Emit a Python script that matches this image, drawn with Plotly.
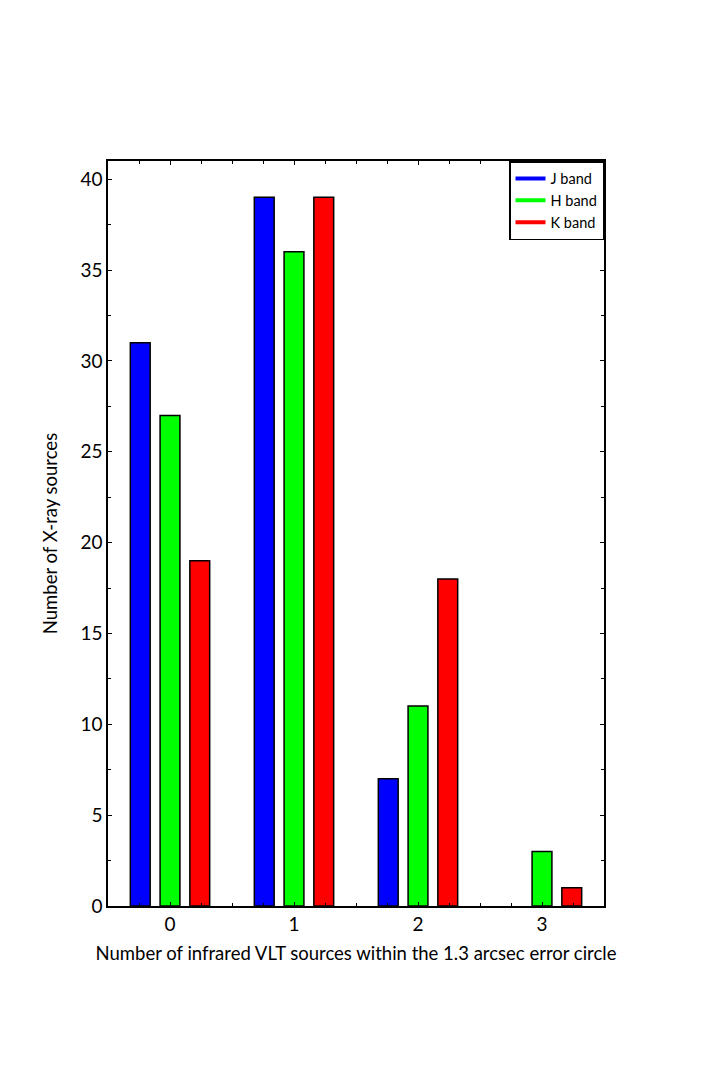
import plotly.graph_objects as go

# number of VLT infrared counterparts inside the error circle
n_counterparts = [0, 1, 2, 3]
j_band = [31, 39, 7, 0]
h_band = [27, 36, 11, 3]
k_band = [19, 39, 18, 1]

BANDS = [
    ("J band", j_band, "#0000ff", -0.32),
    ("H band", h_band, "#00ff00", -0.08),
    ("K band", k_band, "#ff0000", 0.16),
]
FONT = "Lato, DejaVu Sans, sans-serif"

fig = go.Figure()
for name, vals, col, off in BANDS:
    fig.add_trace(go.Bar(
        x=n_counterparts, y=vals, name=name,
        width=0.16, offset=off,
        marker=dict(color=col,
                    line=dict(color="black", width=[1.5 if v else 0 for v in vals])),
        showlegend=False,
    ))
    # line-style legend entries
    fig.add_trace(go.Scatter(
        x=[None], y=[None], mode="lines", name=name,
        line=dict(color=col, width=4),
    ))

axis_common = dict(
    showline=True, linecolor="black", linewidth=1.5, mirror="allticks",
    ticks="inside", tickcolor="black", showgrid=False, zeroline=False,
    tickfont=dict(family=FONT, size=19, color="black"),
)

fig.update_layout(
    width=713, height=1067,
    paper_bgcolor="white", plot_bgcolor="white",
    margin=dict(l=100, r=117, t=153, b=169),
    barmode="overlay",
    font=dict(family=FONT, color="black"),
    xaxis=dict(
        range=[-0.5, 3.5], tickvals=n_counterparts, ticklen=4,
        minor=dict(dtick=0.25, ticks="inside", ticklen=3, tickcolor="black"),
        title=dict(text="Number of infrared VLT sources within the 1.3 arcsec error circle",
                   font=dict(family=FONT, size=18.5), standoff=14),
        **axis_common,
    ),
    yaxis=dict(
        range=[0, 41], dtick=5, ticklen=4,
        minor=dict(dtick=2.5, ticks="inside", ticklen=3, tickcolor="black"),
        title=dict(text="Number of X-ray sources",
                   font=dict(family=FONT, size=18.5), standoff=18),
        **axis_common,
    ),
    legend=dict(
        x=1, xanchor="right", y=1, yanchor="top",
        bgcolor="white", bordercolor="black", borderwidth=1.5,
        font=dict(family=FONT, size=14.5),
        itemwidth=30,
    ),
)

fig.write_html("out.html")
